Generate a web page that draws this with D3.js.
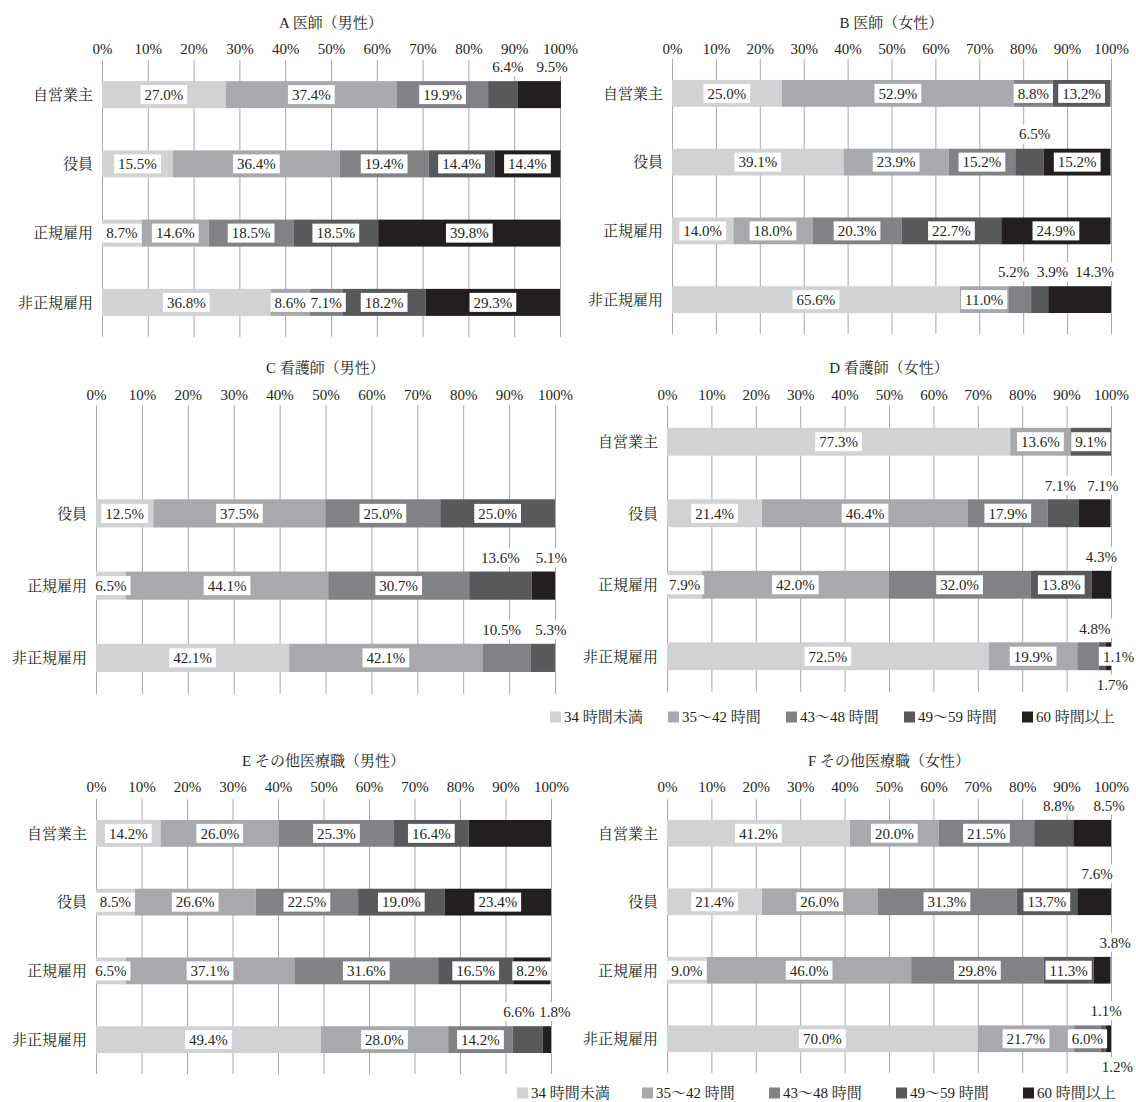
<!DOCTYPE html>
<html>
<head>
<meta charset="utf-8">
<script src="https://cdn.jsdelivr.net/npm/d3@7/dist/d3.min.js"></script>
<style>
  html, body { margin: 0; padding: 0; background: #ffffff; }
  svg text {
    font-family: "Liberation Serif", "Times New Roman", "Noto Serif CJK JP", "Noto Sans CJK JP", serif;
    font-size: 15px;
    fill: #231f20;
  }
</style>
</head>
<body>
<svg id="chart" width="1136" height="1102"></svg>
<script>
// ---- data ----
const categories = ["自営業主", "役員", "正規雇用", "非正規雇用"];
const seriesNames = ["34 時間未満", "35～42 時間", "43～48 時間", "49～59 時間", "60 時間以上"];
const tickValues = [0, 10, 20, 30, 40, 50, 60, 70, 80, 90, 100];
const panelTitles = [
  "A 医師（男性）", "B 医師（女性）",
  "C 看護師（男性）", "D 看護師（女性）",
  "E その他医療職（男性）", "F その他医療職（女性）"
];

// share of workers (%) by weekly hours: rows follow `categories`, columns follow `seriesNames`
const valuesA = [
  [27.0, 37.4, 19.9, 6.4, 9.5],
  [15.5, 36.4, 19.4, 14.4, 14.4],
  [8.7, 14.6, 18.5, 18.5, 39.8],
  [36.8, 8.6, 7.1, 18.2, 29.3]
];
const valuesB = [
  [25.0, 52.9, 8.8, 13.2, 0],
  [39.1, 23.9, 15.2, 6.5, 15.2],
  [14.0, 18.0, 20.3, 22.7, 24.9],
  [65.6, 11.0, 5.2, 3.9, 14.3]
];
const valuesC = [
  [0, 0, 0, 0, 0],
  [12.5, 37.5, 25.0, 25.0, 0],
  [6.5, 44.1, 30.7, 13.6, 5.1],
  [42.1, 42.1, 10.5, 5.3, 0]
];
const valuesD = [
  [77.3, 13.6, 0, 9.1, 0],
  [21.4, 46.4, 17.9, 7.1, 7.1],
  [7.9, 42.0, 32.0, 13.8, 4.3],
  [72.5, 19.9, 4.8, 1.7, 1.1]
];
const valuesE = [
  [14.2, 26.0, 25.3, 16.4, 18.1],
  [8.5, 26.6, 22.5, 19.0, 23.4],
  [6.5, 37.1, 31.6, 16.5, 8.2],
  [49.4, 28.0, 14.2, 6.6, 1.8]
];
const valuesF = [
  [41.2, 20.0, 21.5, 8.8, 8.5],
  [21.4, 26.0, 31.3, 13.7, 7.6],
  [9.0, 46.0, 29.8, 11.3, 3.8],
  [70.0, 21.7, 6.0, 1.1, 1.2]
];

// ---- styling / layout ----
const seriesColors = ["#d1d2d4", "#a7a9ac", "#808285", "#58595b", "#231f20"];
const gridColor = "#a8a8a8";

// label placement for small segments: key = "row-series"
const labelPlacement = {
  A: { "0-3": { pos: "above", dx: 5 }, "0-4": { pos: "above", dx: 13 } },
  B: { "1-3": { pos: "above", dx: 5 }, "3-2": { pos: "above", dx: -6 },
       "3-3": { pos: "above", dx: 13 }, "3-4": { pos: "above", dx: 15 } },
  C: { "2-3": { pos: "above", dx: 0 }, "2-4": { pos: "above", dx: 8 },
       "3-2": { pos: "above", dx: -5 }, "3-3": { pos: "above", dx: 8 } },
  D: { "1-3": { pos: "above", dx: -3 }, "1-4": { pos: "above", dx: 8 },
       "2-4": { pos: "above", dx: 0 }, "3-2": { pos: "above", dx: 7 },
       "3-3": { pos: "below", dx: 10 }, "3-4": { pos: "mid", dx: 10 } },
  E: { "3-3": { pos: "above", dx: -9 }, "3-4": { pos: "above", dx: 8 },
       "0-4": { pos: "none" } },
  F: { "0-3": { pos: "above", dx: 5 }, "0-4": { pos: "above", dx: 17 },
       "1-4": { pos: "above", dx: 3 }, "2-4": { pos: "above", dx: 13 },
       "3-3": { pos: "above", dx: 3 }, "3-4": { pos: "below", dx: 9 } }
};

const panels = [
  { key: "A", title: panelTitles[0], values: valuesA, x0: 102, x1: 560, y0: 60, y1: 337, titleY: 23, tickY: 49 },
  { key: "B", title: panelTitles[1], values: valuesB, x0: 672, x1: 1111, y0: 59, y1: 334, titleY: 23, tickY: 49 },
  { key: "C", title: panelTitles[2], values: valuesC, x0: 96, x1: 555, y0: 405, y1: 694, titleY: 368, tickY: 395 },
  { key: "D", title: panelTitles[3], values: valuesD, x0: 667, x1: 1111, y0: 406, y1: 692, titleY: 368, tickY: 395 },
  { key: "E", title: panelTitles[4], values: valuesE, x0: 96, x1: 551, y0: 799, y1: 1074, titleY: 761, tickY: 787 },
  { key: "F", title: panelTitles[5], values: valuesF, x0: 667, x1: 1111, y0: 799, y1: 1073, titleY: 761, tickY: 787 }
];

const legends = [
  { y: 717, xs: [550, 668, 786, 904, 1022] },
  { y: 1093, xs: [517, 642, 769, 896, 1023] }
];

const svg = d3.select("#chart");
const fmt = v => v.toFixed(1) + "%";

function drawPanel(p) {
  const g = svg.append("g").attr("class", "panel panel-" + p.key);
  const x = d3.scaleLinear().domain([0, 100]).range([p.x0, p.x1]);
  const y = d3.scaleBand().domain(categories).range([p.y0, p.y1])
    .paddingInner(0.61).paddingOuter(0.305);

  // title
  g.append("text")
    .attr("x", (p.x0 + p.x1) / 2).attr("y", p.titleY).attr("dy", "0.35em")
    .attr("text-anchor", "middle").text(p.title);

  // percent axis with full-height gridlines
  const axis = d3.axisTop(x).tickValues(tickValues)
    .tickFormat(d => d + "%")
    .tickSize(-(p.y1 - p.y0))
    .tickPadding(p.y0 - p.tickY - 5);
  const ax = g.append("g").attr("transform", `translate(0,${p.y0})`).call(axis);
  ax.select(".domain").remove();
  ax.selectAll(".tick line").attr("stroke", gridColor).attr("stroke-width", 1);
  ax.selectAll(".tick text").attr("fill", "#231f20")
    .style("font-family", null).style("font-size", null)
    .attr("font-family", null).attr("font-size", null);

  // category labels (rows without data carry no label)
  categories.forEach((c, i) => {
    const total = d3.sum(p.values[i]);
    if (total <= 0) return;
    g.append("text")
      .attr("x", p.x0 - 9).attr("y", y(c) + y.bandwidth() / 2).attr("dy", "0.35em")
      .attr("text-anchor", "end").text(c);
  });

  // stacked segments
  const rows = p.values.map((v, i) => {
    const o = { cat: categories[i] };
    v.forEach((val, k) => { o[k] = val; });
    return o;
  });
  const stack = d3.stack().keys(d3.range(seriesNames.length));
  const layers = stack(rows);

  layers.forEach((layer, k) => {
    g.append("g").selectAll("rect").data(layer).join("rect")
      .attr("x", d => x(d[0]))
      .attr("y", d => y(d.data.cat))
      .attr("width", d => Math.max(0, x(d[1]) - x(d[0])))
      .attr("height", y.bandwidth())
      .attr("fill", seriesColors[k]);
  });

  // value labels
  const lg = g.append("g").attr("class", "labels");
  const placement = labelPlacement[p.key] || {};
  layers.forEach((layer, k) => {
    layer.forEach((d, i) => {
      const v = p.values[i][k];
      if (!(v > 0)) return;
      const pl = placement[i + "-" + k];
      if (pl && pl.pos === "none") return;
      const yc = y(d.data.cat) + y.bandwidth() / 2;
      let cx = x((d[0] + d[1]) / 2);
      let cy = yc;
      if (pl) {
        cx += pl.dx || 0;
        if (pl.pos === "above") cy = yc - 28;
        if (pl.pos === "below") cy = yc + 28;
      }
      const box = lg.append("rect").attr("fill", "#ffffff");
      const t = lg.append("text")
        .attr("x", cx).attr("y", cy).attr("dy", "0.35em")
        .attr("text-anchor", "middle").text(fmt(v));
      const w = t.node().getComputedTextLength();
      box.attr("x", cx - w / 2 - 4).attr("y", cy - 9.5)
        .attr("width", w + 8).attr("height", 19);
    });
  });
}

panels.forEach(drawPanel);

// legends
legends.forEach(L => {
  const g = svg.append("g").attr("class", "legend");
  seriesNames.forEach((name, k) => {
    g.append("rect")
      .attr("x", L.xs[k]).attr("y", L.y - 5.5)
      .attr("width", 11).attr("height", 11)
      .attr("fill", seriesColors[k]);
    g.append("text")
      .attr("x", L.xs[k] + 14).attr("y", L.y).attr("dy", "0.35em")
      .text(name);
  });
});
</script>
</body>
</html>
